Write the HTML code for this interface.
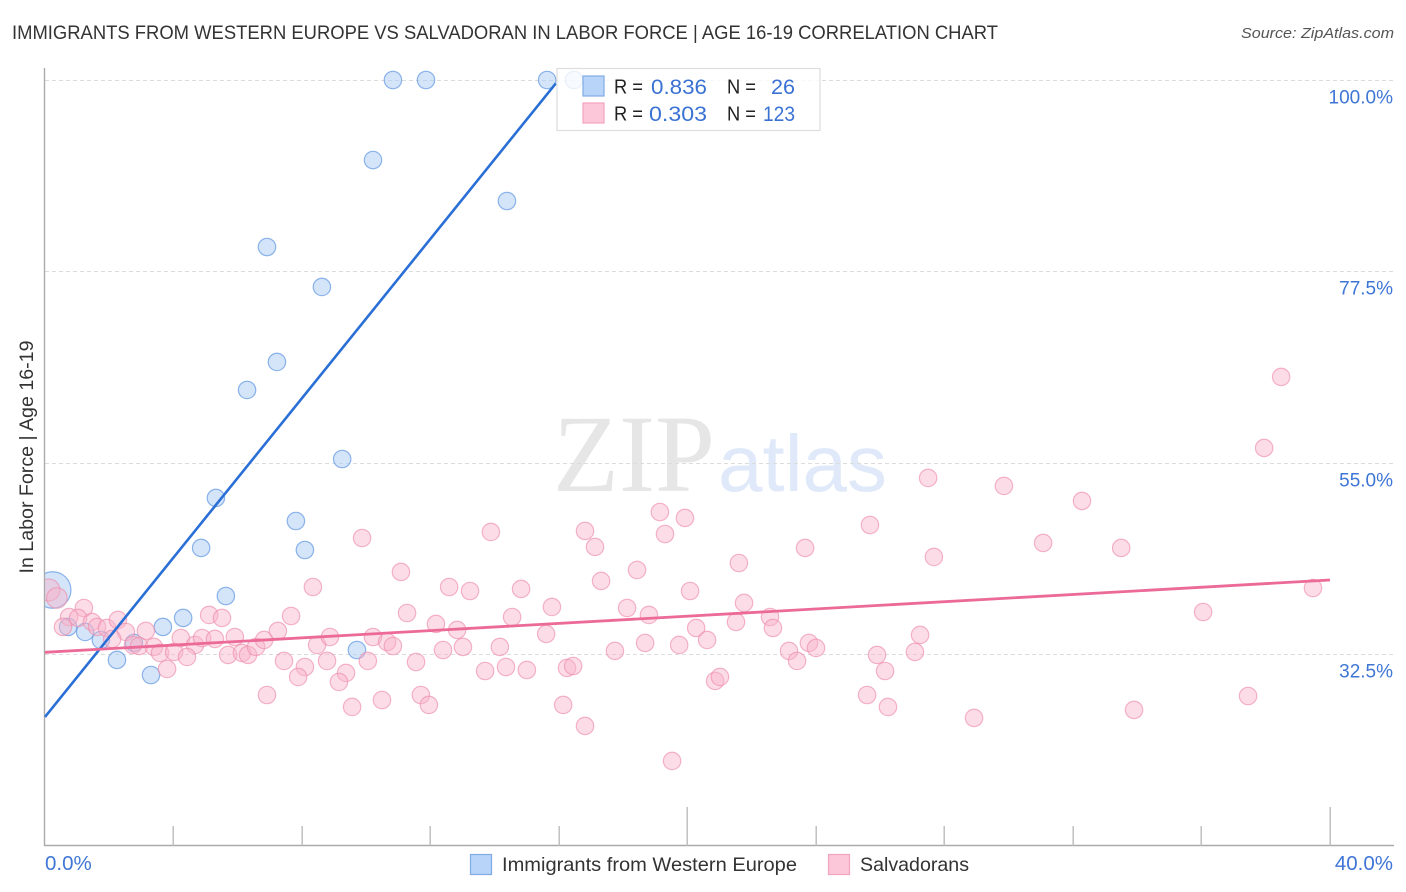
<!DOCTYPE html>
<html lang="en">
<head>
<meta charset="utf-8">
<title>Immigrants from Western Europe vs Salvadoran In Labor Force | Age 16-19 Correlation Chart</title>
<style>
html,body{margin:0;padding:0;background:#fff;width:1406px;height:892px;overflow:hidden}
svg{display:block;font-family:"Liberation Sans",sans-serif}
</style>
</head>
<body>
<svg id="chart" width="1406" height="892" viewBox="0 0 1406 892" xmlns="http://www.w3.org/2000/svg">
  <defs>
    <clipPath id="plotClip"><rect x="45" y="60" width="1349" height="786"/></clipPath>
  </defs>
  <rect width="1406" height="892" fill="#fff"/>
  <text x="12" y="39" font-size="19.5" fill="#333" textLength="986" lengthAdjust="spacingAndGlyphs">IMMIGRANTS FROM WESTERN EUROPE VS SALVADORAN IN LABOR FORCE | AGE 16-19 CORRELATION CHART</text>
  <text x="1394" y="38" font-size="15" font-style="italic" fill="#555" text-anchor="end" textLength="153" lengthAdjust="spacingAndGlyphs">Source: ZipAtlas.com</text>

  <g>
    <text x="553" y="491" font-family="'Liberation Serif',serif" font-size="110" fill="#e6e6e6" textLength="162" lengthAdjust="spacingAndGlyphs">ZIP</text>
    <text x="718" y="491" font-size="80" fill="#dfe9f9" textLength="169" lengthAdjust="spacingAndGlyphs">atlas</text>
  </g>

  <g id="grid"></g>
  <g id="axes">
    <line x1="44.5" y1="68" x2="44.5" y2="846" stroke="#aaa" stroke-width="1.4"/>
    <line x1="44" y1="845.5" x2="1394" y2="845.5" stroke="#aaa" stroke-width="1.4"/>
  </g>
  <g id="xticks"></g>
  <g id="ylabels"></g>
  <g id="xlabels"></g>
  <text transform="translate(33,457) rotate(-90)" font-size="19" fill="#333" text-anchor="middle" textLength="233" lengthAdjust="spacingAndGlyphs">In Labor Force | Age 16-19</text>

  <g id="bluePoints" clip-path="url(#plotClip)"></g>
  <g id="pinkPoints" clip-path="url(#plotClip)"></g>
  <g id="trends"></g>

  <g>
    <rect x="557" y="68.5" width="263" height="62" fill="#fff" fill-opacity="0.8" stroke="#ddd" stroke-width="1.2"/>
    <rect x="583" y="76" width="21" height="20" fill="#b8d4f8" stroke="#7fabe6" stroke-width="1.2"/>
    <rect x="583" y="103" width="21" height="20" fill="#fcc8d9" stroke="#f2a3bd" stroke-width="1.2"/>
    <g font-size="20" fill="#222">
      <text x="614" y="93.5" textLength="29" lengthAdjust="spacingAndGlyphs">R =</text>
      <text x="727" y="93.5" textLength="29" lengthAdjust="spacingAndGlyphs">N =</text>
      <text x="614" y="120.5" textLength="29" lengthAdjust="spacingAndGlyphs">R =</text>
      <text x="727" y="120.5" textLength="29" lengthAdjust="spacingAndGlyphs">N =</text>
    </g>
    <g font-size="21" fill="#3a72d4">
      <text x="651" y="94" textLength="56" lengthAdjust="spacingAndGlyphs">0.836</text>
      <text x="771" y="94" textLength="24" lengthAdjust="spacingAndGlyphs">26</text>
      <text x="649" y="121" textLength="58" lengthAdjust="spacingAndGlyphs">0.303</text>
      <text x="763" y="121" textLength="32" lengthAdjust="spacingAndGlyphs">123</text>
    </g>
  </g>

  <g>
    <rect x="470.5" y="854.5" width="21" height="20" fill="#b8d4f8" stroke="#7fabe6" stroke-width="1.2"/>
    <text x="502" y="871" font-size="19.5" fill="#333" textLength="295" lengthAdjust="spacingAndGlyphs">Immigrants from Western Europe</text>
    <rect x="828.5" y="854.5" width="21" height="20" fill="#fcc8d9" stroke="#f2a3bd" stroke-width="1.2"/>
    <text x="860" y="871" font-size="19.5" fill="#333" textLength="109" lengthAdjust="spacingAndGlyphs">Salvadorans</text>
  </g>
</svg>
<script>
const yTickValues = [100, 77.5, 55, 32.5];
const yTickLabels = ["100.0%", "77.5%", "55.0%", "32.5%"];
const xTickValues = [4, 8, 12, 16, 20, 24, 28, 32, 36, 40];
const xMajorTicks = [20, 40];
const xEdgeLabels = ["0.0%", "40.0%"];

const blueX = [10.83,11.86,15.63,16.47,10.21,14.38,6.91,8.62,7.22,6.29,9.25,5.32,7.81,8.09,4.86,5.63,4.30,3.67,0.72,1.25,1.74,2.77,2.24,3.30,9.71,0.24];
const blueY = [100,100,100,100,90.59,85.77,80.36,75.66,66.84,63.55,55.43,50.85,48.14,44.73,44.97,39.32,36.74,35.68,35.68,35.09,34.15,33.80,31.80,30.03,32.97,40.03];
const blueWeights = [1,1,1,1,1,1,1,1,1,1,1,1,1,1,1,1,1,1,1,1,1,1,1,1,1,4.4];

const pinkX = [0.12,0.37,1.21,0.75,1.03,0.56,1.46,1.62,1.93,2.27,2.52,2.09,3.14,2.74,2.93,3.39,3.58,4.02,4.23,4.67,4.89,5.29,4.42,3.80,5.11,5.51,5.91,5.70,6.13,6.32,6.57,6.82,7.25,7.66,7.44,8.09,7.88,6.91,8.34,8.47,8.87,8.78,9.37,9.15,9.56,10.49,10.05,10.21,10.65,10.83,9.87,11.08,11.27,11.55,11.70,11.95,12.17,12.39,12.58,12.83,13.01,13.23,13.70,13.88,14.16,14.35,14.54,14.82,15.00,15.60,15.78,16.13,16.25,16.44,16.81,16.81,17.12,17.31,17.74,18.12,18.43,18.68,18.80,19.14,19.30,19.52,19.74,19.92,20.08,20.27,20.61,20.86,21.01,21.51,21.60,21.76,22.57,22.66,23.16,23.41,23.66,23.78,24.00,25.59,25.68,25.90,26.15,26.24,27.08,27.24,27.49,27.67,28.92,29.85,31.07,32.28,33.50,33.90,36.05,37.45,37.95,38.48,39.47];
const pinkY = [40.03,39.09,37.91,36.85,36.74,35.68,36.27,35.68,35.56,36.50,35.09,34.27,35.21,33.56,33.44,33.33,32.62,32.74,34.38,33.56,34.38,34.27,32.15,30.74,37.09,36.74,34.50,32.39,32.62,32.39,33.33,34.15,35.21,36.97,31.68,30.97,29.80,27.68,40.38,33.56,34.50,31.68,30.27,29.21,26.27,27.09,31.68,34.50,33.91,33.44,46.14,42.15,37.32,31.56,27.68,26.51,36.03,32.97,40.38,35.33,33.33,39.91,30.50,46.85,33.33,30.97,36.85,40.15,30.62,34.86,38.03,26.51,30.86,31.09,46.97,24.04,45.09,41.09,32.86,37.91,42.38,33.80,37.09,49.20,46.61,19.92,33.56,48.50,39.91,35.56,34.15,29.33,29.80,36.27,43.20,38.50,36.85,35.56,32.86,31.68,44.97,33.80,33.21,27.68,47.67,32.39,30.50,26.27,32.74,34.74,53.20,43.91,24.98,52.26,45.56,50.50,44.97,25.92,37.44,27.56,56.73,65.08,40.26];
const pinkWeights = [1.6,1.4];

const blueTrendX = [0, 15.9];
const blueTrendY = [25.1, 99.6];
const pinkTrendX = [0, 40];
const pinkTrendY = [32.7, 41.2];

const NS = "http://www.w3.org/2000/svg";
function xScale(v){ return 45 + v * (1330 - 45) / 40; }
function yScale(v){ return 80 + (100 - v) * (654 - 80) / 67.5; }
function mk(tag, parent, attrs){
  const el = document.createElementNS(NS, tag);
  for (const k in attrs) el.setAttribute(k, attrs[k]);
  parent.appendChild(el);
  return el;
}

const grid = document.getElementById("grid");
const ylabels = document.getElementById("ylabels");
yTickValues.forEach(function(v, i){
  const py = Math.round(yScale(v)) + 0.5;
  const ln = mk("line", grid, {x1:45, y1:py, x2:1394, y2:py, stroke:"#dcdcdc", "stroke-width":1, "stroke-dasharray":"4 3"});
  
  
  const t = mk("text", ylabels, {x:1393, y:py + 23, "text-anchor":"end", "font-size":19, fill:"#3f76d6"});
  
  
  t.textContent = yTickLabels[i];
});

const xticks = document.getElementById("xticks");
xTickValues.forEach(function(v){
  const px = Math.floor(xScale(v)) + 0.2;
  const top = xMajorTicks.indexOf(v) >= 0 ? 807 : 826;
  const ln = mk("line", xticks, {x1:px, y1:top, x2:px, y2:846, stroke:"#bbb", "stroke-width":1.4});
  
  
});

const xlabels = document.getElementById("xlabels");
const xl0 = mk("text", xlabels, {x:45, y:870, "font-size":20.5, fill:"#3f76d6"});


xl0.textContent = xEdgeLabels[0];
const xl1 = mk("text", xlabels, {x:1393, y:870, "text-anchor":"end", "font-size":20.5, fill:"#3f76d6"});


xl1.textContent = xEdgeLabels[1];

const baseR = 8.7;
const blueGroup = document.getElementById("bluePoints");
blueX.forEach(function(v, i){
  const c = mk("circle", blueGroup, {cx:xScale(v), cy:yScale(blueY[i]), r:baseR * Math.sqrt(blueWeights[i] || 1), fill:"#a9c9f4", "fill-opacity":0.5, stroke:"#5f97e2", "stroke-opacity":0.7, "stroke-width":1.2});
  
  
});
const pinkGroup = document.getElementById("pinkPoints");
pinkX.forEach(function(v, i){
  const c = mk("circle", pinkGroup, {cx:xScale(v), cy:yScale(pinkY[i]), r:baseR * Math.sqrt(pinkWeights[i] || 1), fill:"#f8b4ca", "fill-opacity":0.45, stroke:"#ee8dac", "stroke-opacity":0.65, "stroke-width":1.2});
  
  
});

const trends = document.getElementById("trends");
const tb = mk("line", trends, {x1:xScale(blueTrendX[0]), y1:yScale(blueTrendY[0]), x2:xScale(blueTrendX[1]), y2:yScale(blueTrendY[1]), stroke:"#2a6fd6", "stroke-width":2.6});


const tp = mk("line", trends, {x1:xScale(pinkTrendX[0]), y1:yScale(pinkTrendY[0]), x2:xScale(pinkTrendX[1]), y2:yScale(pinkTrendY[1]), stroke:"#ec6a98", "stroke-width":2.8});


</script>
</body>
</html>
